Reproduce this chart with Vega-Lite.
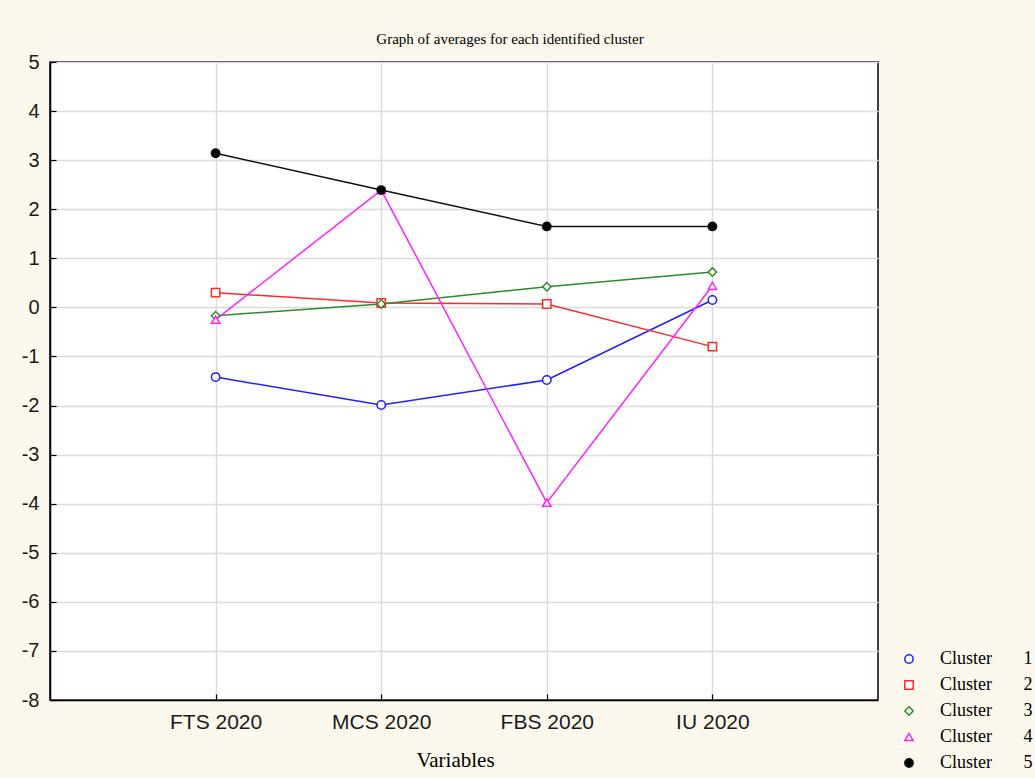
{
  "$schema": "https://vega.github.io/schema/vega-lite/v6.json",
  "width": 828,
  "height": 638,
  "autosize": "none",
  "padding": {"left": 50, "top": 62, "right": 157, "bottom": 78},
  "background": "#fcf8ee",
  "title": {"text": "Graph of averages for each identified cluster", "font": "Liberation Serif", "fontSize": 15, "fontWeight": "normal", "color": "#000000", "anchor": "middle", "dx": 46, "offset": 5},
  "config": {
    "view": {"fill": "white", "stroke": "#000000", "strokeWidth": 1.5},
    "axis": {"gridColor": "#dcdcdc", "gridWidth": 1.5, "domainColor": "#000000", "domainWidth": 1.5, "tickColor": "#000000", "tickWidth": 1.2, "labelFont": "Liberation Sans", "labelColor": "#1a1a1a"}
  },
  "data": {
    "values": [
      {"variable": "FTS 2020", "cluster": 1, "value": -1.42},
      {"variable": "MCS 2020", "cluster": 1, "value": -1.99},
      {"variable": "FBS 2020", "cluster": 1, "value": -1.48},
      {"variable": "IU 2020", "cluster": 1, "value": 0.15},
      {"variable": "FTS 2020", "cluster": 2, "value": 0.30},
      {"variable": "MCS 2020", "cluster": 2, "value": 0.09},
      {"variable": "FBS 2020", "cluster": 2, "value": 0.07},
      {"variable": "IU 2020", "cluster": 2, "value": -0.80},
      {"variable": "FTS 2020", "cluster": 3, "value": -0.17},
      {"variable": "MCS 2020", "cluster": 3, "value": 0.07},
      {"variable": "FBS 2020", "cluster": 3, "value": 0.42},
      {"variable": "IU 2020", "cluster": 3, "value": 0.72},
      {"variable": "FTS 2020", "cluster": 4, "value": -0.25},
      {"variable": "MCS 2020", "cluster": 4, "value": 2.39},
      {"variable": "FBS 2020", "cluster": 4, "value": -3.98},
      {"variable": "IU 2020", "cluster": 4, "value": 0.44},
      {"variable": "FTS 2020", "cluster": 5, "value": 3.14},
      {"variable": "MCS 2020", "cluster": 5, "value": 2.39},
      {"variable": "FBS 2020", "cluster": 5, "value": 1.65},
      {"variable": "IU 2020", "cluster": 5, "value": 1.65}
    ]
  },
  "encoding": {
    "x": {
      "field": "variable", "type": "nominal",
      "sort": ["FTS 2020", "MCS 2020", "FBS 2020", "IU 2020"],
      "scale": {"type": "point", "padding": 1},
      "axis": {"labelAngle": 0, "labelFontSize": 21, "tickSize": -6, "labelPadding": 17, "title": "Variables", "titleFont": "Liberation Serif", "titleFontSize": 21, "titleFontWeight": "normal", "titleColor": "#000000", "titlePadding": 17, "titleX": 405, "grid": true}
    },
    "y": {
      "field": "value", "type": "quantitative",
      "scale": {"domain": [-8, 5], "nice": false, "zero": false},
      "axis": {"values": [-8, -7, -6, -5, -4, -3, -2, -1, 0, 1, 2, 3, 4, 5], "labelExpr": "datum.value + ''", "labelFontSize": 20, "tickSize": -6, "labelPadding": 17, "title": null, "grid": true}
    },
    "stroke": {
      "field": "cluster", "type": "nominal",
      "scale": {"domain": [1, 2, 3, 4, 5], "range": ["#1f1fff", "#ff2a2a", "#2a8c2a", "#ff22ff", "#111111"]},
      "legend": {
        "orient": "none", "legendX": 850, "legendY": 588, "title": null, "padding": 0,
        "labelExpr": "'Cluster\u00a0\u00a0\u00a0\u00a0\u00a0\u00a0\u00a0' + datum.label",
        "labelFont": "Liberation Serif", "labelFontSize": 18, "labelColor": "#000000",
        "symbolSize": 70, "symbolStrokeWidth": 1.5, "labelOffset": 22, "rowPadding": 8
      }
    }
  },
  "layer": [
    {
      "mark": {"type": "line", "strokeWidth": 1.5},
      "encoding": {
        "detail": {"field": "cluster", "type": "nominal"}
      }
    },
    {
      "mark": {"type": "point", "filled": true, "strokeWidth": 1.5, "opacity": 1, "size": 70},
      "encoding": {
        "fill": {
          "field": "cluster", "type": "nominal",
          "scale": {"domain": [1, 2, 3, 4, 5], "range": ["#ffffff", "#ffffff", "#ffffff", "#ffffff", "#000000"]},
          "legend": {
            "orient": "none", "legendX": 850, "legendY": 588, "title": null, "padding": 0,
            "labelExpr": "'Cluster\u00a0\u00a0\u00a0\u00a0\u00a0\u00a0\u00a0' + datum.label",
            "labelFont": "Liberation Serif", "labelFontSize": 18, "labelColor": "#000000",
            "symbolSize": 70, "symbolStrokeWidth": 1.5, "labelOffset": 22, "rowPadding": 8
          }
        },
        "shape": {
          "field": "cluster", "type": "nominal",
          "scale": {"domain": [1, 2, 3, 4, 5], "range": ["circle", "square", "diamond", "triangle-up", "circle"]},
          "legend": {
            "orient": "none", "legendX": 850, "legendY": 588, "title": null, "padding": 0,
            "labelExpr": "'Cluster\u00a0\u00a0\u00a0\u00a0\u00a0\u00a0\u00a0' + datum.label",
            "labelFont": "Liberation Serif", "labelFontSize": 18, "labelColor": "#000000",
            "symbolSize": 70, "symbolStrokeWidth": 1.5, "labelOffset": 22, "rowPadding": 8
          }
        }
      }
    }
  ]
}
